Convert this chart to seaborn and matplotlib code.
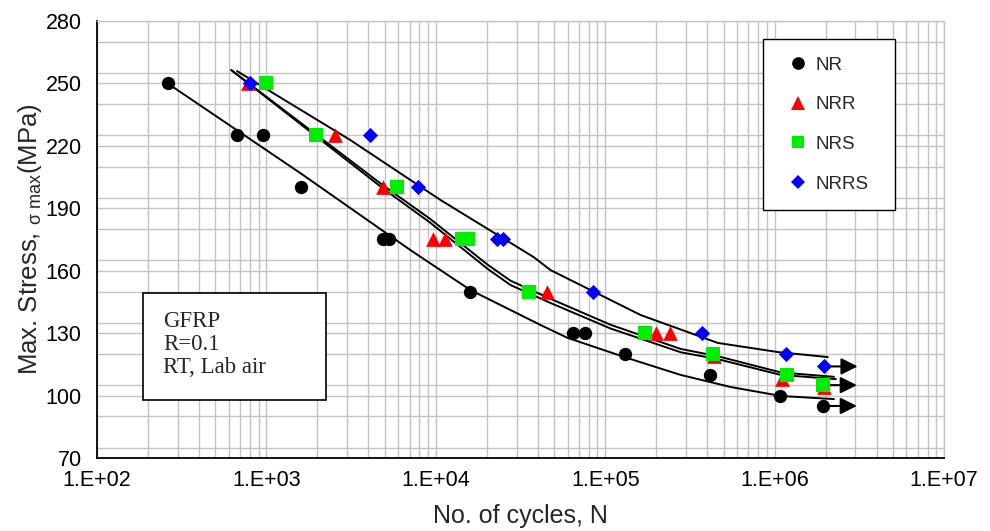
#!/usr/bin/env python3
"""S-N curves for GFRP specimens (NR / NRR / NRS / NRRS)."""

import matplotlib

matplotlib.use("Agg")

import matplotlib.pyplot as plt
import matplotlib.ticker as mticker
from matplotlib.lines import Line2D
from matplotlib.patches import Rectangle
import numpy as np
import pandas as pd
import seaborn as sns


# --- test points ---
nr_cycles = [263, 671, 957, 1607, 4900, 5320, 16000, 64100, 75500, 130000, 414000, 1070000, 1930000]
nr_stress = [250, 225, 225, 200, 175, 175, 150, 130, 130, 120, 110, 100, 95]

nrr_cycles = [780, 2550, 4900, 9560, 11250, 45100, 198600, 240000, 440000, 1100000, 1950000]
nrr_stress = [250, 225, 200, 175, 175, 150, 130, 130, 119, 108, 104]

nrs_cycles = [1000, 1970, 5930, 14350, 15400, 35700, 171000, 432000, 1180000, 1930000]
nrs_stress = [250, 225, 200, 175, 175, 150, 130, 120, 110, 105]

nrrs_cycles = [802, 4100, 7890, 23100, 24800, 84300, 371000, 1160000, 1950000]
nrrs_stress = [250, 225, 200, 175, 175, 150, 130, 120, 114]

# run-outs (no failure) -> drawn with an arrow
runout_series = ["NR", "NRS", "NRRS"]
runout_cycles = [1930000, 1930000, 1950000]
runout_stress = [95, 105, 114]

# --- hand-fitted trend curves ---
nr_fit_cycles = [259, 1585, 7080, 16000, 27600, 41500, 60000, 135500, 279000, 551000, 1090000, 2240000]
nr_fit_stress = [250.2, 206.9, 169.9, 150.7, 141.1, 133.9, 127.7, 118.0, 109.9, 104.1, 99.8, 98.3]

nrs_fit_cycles = [620, 4900, 9290, 20200, 27600, 47500, 107600, 279000, 461000, 1090000, 2240000]
nrs_fit_stress = [256.4, 200.9, 184.8, 162.9, 155.2, 146.5, 134.0, 122.4, 118.9, 111.1, 109.0]

nrr_fit_cycles = [620, 4900, 9290, 20200, 27600, 47500, 107600, 279000, 461000, 1090000, 2300000]
nrr_fit_stress = [256.4, 199.4, 183.0, 160.9, 153.1, 144.5, 132.2, 120.8, 117.5, 109.9, 107.9]

nrrs_fit_cycles = [671, 3126, 10640, 37700, 47500, 161800, 461000, 1045000, 2060000]
nrrs_fit_stress = [255.9, 222.8, 194.0, 166.6, 160.3, 138.7, 125.3, 120.9, 118.5]

xtick_values = [1e2, 1e3, 1e4, 1e5, 1e6, 1e7]
xtick_labels = ["1.E+02", "1.E+03", "1.E+04", "1.E+05", "1.E+06", "1.E+07"]
ytick_values = [70, 100, 130, 160, 190, 220, 250, 280]

SERIES = ["NR", "NRR", "NRS", "NRRS"]
COLORS = {"NR": "#000000", "NRR": "#ff0000", "NRS": "#00ee00", "NRRS": "#0000ff"}
MARKERS = {"NR": "o", "NRR": "^", "NRS": "s", "NRRS": "D"}
SIZES = {"NR": 92, "NRR": 112, "NRS": 88, "NRRS": 60}
ARROW_DECADES = 0.2


def build_points():
    frames = []
    for name, n, s in [
        ("NR", nr_cycles, nr_stress),
        ("NRR", nrr_cycles, nrr_stress),
        ("NRS", nrs_cycles, nrs_stress),
        ("NRRS", nrrs_cycles, nrrs_stress),
    ]:
        frames.append(pd.DataFrame({"cycles": n, "stress": s, "series": name}))
    return pd.concat(frames, ignore_index=True)


def main():
    sns.set_theme(style="white")
    plt.rcParams["font.family"] = ["Liberation Sans", "DejaVu Sans"]
    plt.rcParams["mathtext.fontset"] = "custom"
    plt.rcParams["mathtext.rm"] = "Liberation Sans"
    plt.rcParams["mathtext.it"] = "Liberation Sans"
    plt.rcParams["mathtext.default"] = "regular"

    df = build_points()

    fig = plt.figure(figsize=(9.9, 5.31), dpi=100)
    ax = fig.add_axes([0.098, 0.1375, 0.8556, 0.823])

    # fitted curves
    for n, s in [
        (nr_fit_cycles, nr_fit_stress),
        (nrs_fit_cycles, nrs_fit_stress),
        (nrr_fit_cycles, nrr_fit_stress),
        (nrrs_fit_cycles, nrrs_fit_stress),
    ]:
        ax.plot(n, s, color="black", lw=1.4, zorder=3)

    # run-out arrows
    for n, s in zip(runout_cycles, runout_stress):
        ax.annotate(
            "",
            xy=(n * 10 ** ARROW_DECADES, s),
            xytext=(n, s),
            arrowprops=dict(
                arrowstyle="-|>,head_length=1.0,head_width=0.5",
                color="black",
                lw=1.5,
                shrinkA=0,
                shrinkB=0,
                mutation_scale=10,
            ),
            zorder=3,
        )

    # data points
    for name in SERIES:
        sub = df[df["series"] == name]
        sns.scatterplot(
            data=sub,
            x="cycles",
            y="stress",
            ax=ax,
            color=COLORS[name],
            marker=MARKERS[name],
            s=SIZES[name],
            linewidth=0,
            zorder=4,
            legend=False,
        )

    ax.set_xscale("log")
    ax.set_xlim(1e2, 1e7)
    ax.set_ylim(70, 280)
    ax.set_xticks(xtick_values)
    ax.set_xticklabels(xtick_labels)
    ax.xaxis.set_minor_locator(mticker.LogLocator(base=10, subs=np.arange(2, 10)))
    ax.xaxis.set_minor_formatter(mticker.NullFormatter())
    ax.set_yticks(ytick_values)
    ax.yaxis.set_minor_locator(mticker.MultipleLocator(15))

    ax.grid(which="both", color="#c4c4c4", lw=1.0)
    ax.set_axisbelow(True)
    ax.tick_params(which="both", direction="in", colors="black", labelsize=15.5)
    ax.tick_params(which="major", length=6, width=1)
    ax.tick_params(which="minor", length=5, width=0.8)
    ax.tick_params(axis="x", pad=9)
    ax.tick_params(axis="y", pad=11)

    for side in ["left", "bottom"]:
        ax.spines[side].set_color("black")
        ax.spines[side].set_linewidth(1.3)
    for side in ["top", "right"]:
        ax.spines[side].set_color("#c4c4c4")
        ax.spines[side].set_linewidth(1.0)

    ax.set_xlabel("No. of cycles, N", fontsize=18, labelpad=9)
    ax.set_ylabel(r"Max. Stress, ${}_{\sigma\ max}$(MPa)", fontsize=18.5, labelpad=1)

    # legend in a hand-placed box
    ax.add_patch(Rectangle((0.786, 0.5675), 0.156, 0.391, transform=ax.transAxes,
                           facecolor="white", edgecolor="black", lw=1.0, zorder=6))
    handles = [
        Line2D([], [], linestyle="none", marker=MARKERS[name], color=COLORS[name],
               markeredgewidth=0, markersize=np.sqrt(SIZES[name]) * 0.95, label=name)
        for name in SERIES
    ]
    leg = ax.legend(handles=handles, loc="center", bbox_to_anchor=(0.864, 0.763),
                    frameon=False, fontsize=13.5, labelspacing=1.2, handlelength=1.0,
                    handletextpad=0.45, borderaxespad=0)
    leg.set_zorder(7)

    # test-condition box
    ax.add_patch(Rectangle((0.054, 0.133), 0.216, 0.245, transform=ax.transAxes,
                           facecolor="white", edgecolor="black", lw=1.2, zorder=6))
    ax.text(0.078, 0.337, "GFRP\nR=0.1\nRT, Lab air", transform=ax.transAxes,
            va="top", ha="left", fontsize=16.5, linespacing=1.12,
            family=["Liberation Serif", "DejaVu Serif"], zorder=7)

    fig.savefig("out.png", dpi=100)
    plt.close(fig)


if __name__ == "__main__":
    main()
